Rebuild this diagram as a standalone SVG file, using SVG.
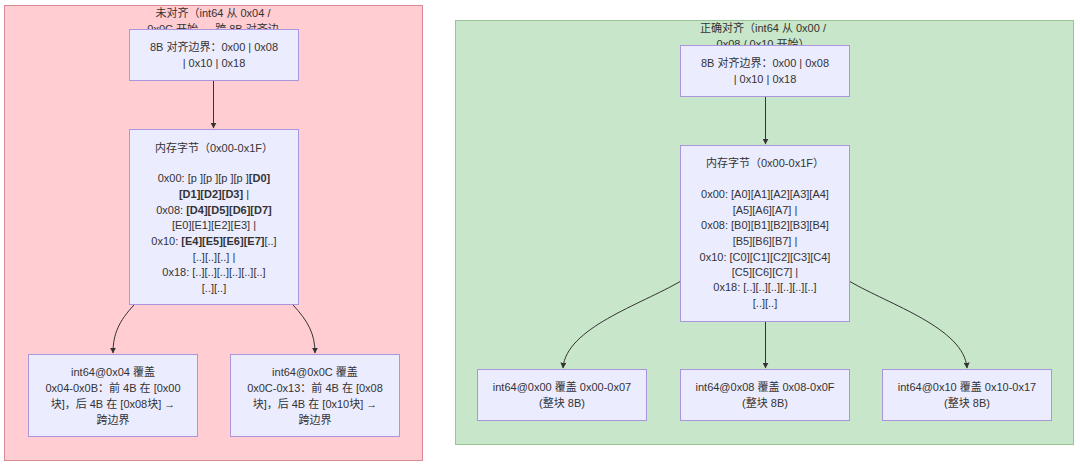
<svg xmlns="http://www.w3.org/2000/svg" width="1080" height="466" viewBox="0 0 1080 466">
<defs>
<style>
text{font-family:"Liberation Sans","Noto Sans CJK SC",sans-serif;font-size:11px;fill:#333;text-anchor:middle}
.node rect{fill:#ECECFF;stroke:#a996dd;stroke-width:1}
.edge{fill:none;stroke:#333;stroke-width:1}
.b{font-weight:bold}
</style>
<marker id="arr" viewBox="0 0 10 10" refX="9" refY="5" markerWidth="6" markerHeight="6" orient="auto-start-reverse" markerUnits="userSpaceOnUse">
<path d="M0,0 L10,5 L0,10 z" fill="#333"/>
</marker>
</defs>
<rect width="1080" height="466" fill="#fff"/>
<g id="cluster-bad">
<rect x="4.5" y="5.5" width="418" height="455" fill="#ffcdd2" stroke="#d98a92" stroke-width="1"/>
<text x="213" y="17">未对齐（int64 从 0x04 /</text>
<text x="213" y="33">0x0C 开始 → 跨 8B 对齐边</text>
</g>
<g id="cluster-good">
<rect x="455.5" y="20.5" width="618" height="424" fill="#c8e6c9" stroke="#98c49a" stroke-width="1"/>
<text x="763" y="32">正确对齐（int64 从 0x00 /</text>
<text x="763" y="48">0x08 / 0x10 开始）</text>
</g>
<g id="connectors">
<path class="edge" d="M213.5,80 L213.5,128" marker-end="url(#arr)"/>
<path class="edge" d="M134,305 C119,321 113,334 113,353" marker-end="url(#arr)"/>
<path class="edge" d="M293,305 C308,321 315,334 315,353" marker-end="url(#arr)"/>
<path class="edge" d="M765.5,96 L765.5,144" marker-end="url(#arr)"/>
<path class="edge" d="M681,281 C640,305 566,328 563,368" marker-end="url(#arr)"/>
<path class="edge" d="M765.5,321 L765.5,368" marker-end="url(#arr)"/>
<path class="edge" d="M849,281 C890,305 964,328 967,368" marker-end="url(#arr)"/>
</g>
<g id="nodeA" class="node">
<rect x="129.5" y="29.5" width="169" height="51"/>
<text x="214" y="51">8B 对齐边界：0x00 | 0x08</text>
<text x="214" y="67">| 0x10 | 0x18</text>
</g>
<g id="nodeB" class="node">
<rect x="129.5" y="129.5" width="169" height="175"/>
<text x="214" y="152">内存字节（0x00-0x1F）</text>
<text x="214" y="182">0x00: [p ][p ][p ][p ]<tspan class="b">[D0]</tspan></text>
<text x="214" y="198"><tspan class="b">[D1][D2][D3]</tspan> |</text>
<text x="214" y="214">0x08: <tspan class="b">[D4][D5][D6][D7]</tspan></text>
<text x="214" y="229">[E0][E1][E2][E3] |</text>
<text x="214" y="245">0x10: <tspan class="b">[E4][E5][E6][E7]</tspan>[..]</text>
<text x="214" y="261">[..][..][..] |</text>
<text x="214" y="276">0x18: [..][..][..][..][..][..]</text>
<text x="214" y="292">[..][..]</text>
</g>
<g id="nodeC" class="node">
<rect x="28.5" y="354.5" width="169" height="82"/>
<text x="113" y="376">int64@0x04 覆盖</text>
<text x="113" y="392">0x04-0x0B：前 4B 在 [0x00</text>
<text x="113" y="408">块]，后 4B 在 [0x08块] →</text>
<text x="113" y="424">跨边界</text>
</g>
<g id="nodeD" class="node">
<rect x="230.5" y="354.5" width="169" height="82"/>
<text x="315" y="376">int64@0x0C 覆盖</text>
<text x="315" y="392">0x0C-0x13：前 4B 在 [0x08</text>
<text x="315" y="408">块]，后 4B 在 [0x10块] →</text>
<text x="315" y="424">跨边界</text>
</g>
<g id="nodeE" class="node">
<rect x="680.5" y="45.5" width="169" height="51"/>
<text x="765" y="67">8B 对齐边界：0x00 | 0x08</text>
<text x="765" y="83">| 0x10 | 0x18</text>
</g>
<g id="nodeF" class="node">
<rect x="680.5" y="145.5" width="169" height="176"/>
<text x="765" y="167">内存字节（0x00-0x1F）</text>
<text x="765" y="198">0x00: [A0][A1][A2][A3][A4]</text>
<text x="765" y="214">[A5][A6][A7] |</text>
<text x="765" y="229">0x08: [B0][B1][B2][B3][B4]</text>
<text x="765" y="245">[B5][B6][B7] |</text>
<text x="765" y="261">0x10: [C0][C1][C2][C3][C4]</text>
<text x="765" y="276">[C5][C6][C7] |</text>
<text x="765" y="291">0x18: [..][..][..][..][..][..]</text>
<text x="765" y="307">[..][..]</text>
</g>
<g id="nodeG" class="node">
<rect x="477.5" y="369.5" width="169" height="51"/>
<text x="562" y="391">int64@0x00 覆盖 0x00-0x07</text>
<text x="562" y="407">(整块 8B)</text>
</g>
<g id="nodeH" class="node">
<rect x="680.5" y="369.5" width="169" height="51"/>
<text x="765" y="391">int64@0x08 覆盖 0x08-0x0F</text>
<text x="765" y="407">(整块 8B)</text>
</g>
<g id="nodeI" class="node">
<rect x="882.5" y="369.5" width="169" height="51"/>
<text x="967" y="391">int64@0x10 覆盖 0x10-0x17</text>
<text x="967" y="407">(整块 8B)</text>
</g>
</svg>
